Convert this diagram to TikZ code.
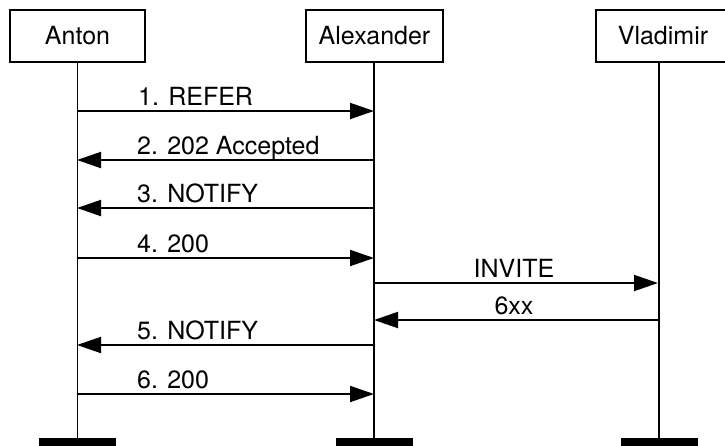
\documentclass[tikz,border=0pt]{standalone}
\usepackage{fontspec}
\setmainfont{TeX Gyre Heros}
\usetikzlibrary{arrows.meta}
\begin{document}
\begin{tikzpicture}[x=1pt,y=-1pt,
  actor/.style={draw,line width=1.9pt,minimum height=52pt,inner sep=0pt,font=\fontsize{25}{28}\selectfont},
  bar/.style={fill=black,minimum width=77pt,minimum height=8pt,inner sep=0pt},
  life/.style={line width=1.9pt},
  msg/.style={line width=1.9pt,-{Triangle[length=24pt,width=16pt]}},
  lbl/.style={anchor=base west,inner sep=0pt,font=\fontsize{25}{28}\selectfont},
  clbl/.style={anchor=base,inner sep=0pt,font=\fontsize{25}{28}\selectfont}]
\useasboundingbox (0,0) rectangle (725,445);
% actors
\node[actor,minimum width=135pt] (a) at (77.5,36) {Anton};
\node[actor,minimum width=137pt] (b) at (374.5,36) {Alexander};
\node[actor,minimum width=134pt] (c) at (663,36) {Vladimir};
% bottom bars
\node[bar] (abar) at (77.5,442) {};
\node[bar] (bbar) at (374,442) {};
\node[bar] (cbar) at (659,442) {};
% lifelines
\draw[life] (abar.north |- a.south) -- (abar.north);
\draw[life] (bbar.north |- b.south) -- (bbar.north);
\draw[life] (cbar.north |- c.south) -- (cbar.north);
% endpoints
\coordinate (a1) at (77,111);  \coordinate (b1) at (374,111);
\coordinate (a2) at (77,160);  \coordinate (b2) at (374,160);
\coordinate (a3) at (77,208);  \coordinate (b3) at (374,208);
\coordinate (a4) at (77,258);  \coordinate (b4) at (374,258);
\coordinate (b5) at (374,283); \coordinate (c5) at (658,283);
\coordinate (b6) at (374,320); \coordinate (c6) at (658,320);
\coordinate (a7) at (77,345);  \coordinate (b7) at (374,345);
\coordinate (a8) at (77,394);  \coordinate (b8) at (374,394);
% messages
\draw[msg] (a1) -- (b1);
\node[lbl] (m1) at (138,105) {1. REFER};
\draw[msg] (b2) -- (a2);
\node[lbl] (m2) at (137,154) {2. 202 Accepted};
\draw[msg] (b3) -- (a3);
\node[lbl] (m3) at (137,202) {3. NOTIFY};
\draw[msg] (a4) -- (b4);
\node[lbl] (m4) at (137,252) {4. 200};
\draw[msg] (b5) -- (c5);
\node[clbl] (m5) at (514,277) {INVITE};
\draw[msg] (c6) -- (b6);
\node[clbl] (m6) at (514,314) {6xx};
\draw[msg] (b7) -- (a7);
\node[lbl] (m7) at (137,339) {5. NOTIFY};
\draw[msg] (a8) -- (b8);
\node[lbl] (m8) at (137,388) {6. 200};
\end{tikzpicture}
\end{document}
